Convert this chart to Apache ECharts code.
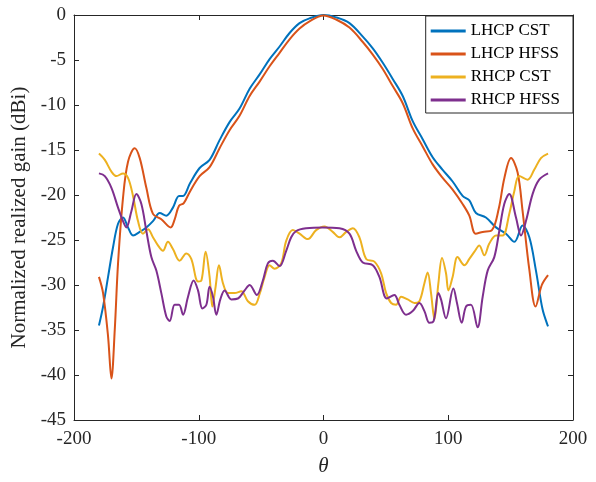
<!DOCTYPE html>
<html>
<head>
<meta charset="utf-8">
<script src="https://cdn.jsdelivr.net/npm/echarts@6/dist/echarts.min.js"></script>
<style>
html,body{margin:0;padding:0;background:#fff;}
#chart{width:596px;height:482px;}
</style>
</head>
<body>
<div id="chart"></div>
<script>
// ---- Data (theta in degrees, normalized realized gain in dBi) ----
var seriesNames = ['LHCP CST', 'LHCP HFSS', 'RHCP CST', 'RHCP HFSS'];
var xTicks = [-200, -100, 0, 100, 200];
var yTicks = [-45, -40, -35, -30, -25, -20, -15, -10, -5, 0];

var lhcpCstTheta = [-180,-176.7,-172.7,-168.7,-164.7,-160.7,-156.7,-152.7,-147.3,-142,-136.7,-131.3,-126,-120.7,-115.8,-112.6,-107,-99.3,-91.3,-83.3,-75.3,-67.3,-59.2,-51.2,-43.2,-35.2,-27.2,-19.2,-11.2,0,10.1,20.8,31.5,39.5,47.5,55.5,63.5,71.5,79.5,87.5,95.5,103.5,111.5,116.9,122.2,130.2,138.3,146.3,153,159.6,165,170.3,175.6,180];
var lhcpCstGain  = [-34.5,-32.4,-29.1,-25.8,-23.2,-22.5,-23.6,-24.5,-24.1,-23.6,-22.9,-22.0,-22.3,-21.4,-20.1,-20.1,-18.7,-17.0,-16.1,-13.9,-11.9,-10.4,-8.2,-6.6,-4.9,-3.5,-2.0,-0.9,-0.37,0,-0.26,-0.9,-2.4,-3.7,-5.3,-7.1,-9.0,-11.8,-13.8,-15.8,-17.2,-18.5,-20.1,-20.6,-22.0,-22.5,-23.6,-24.3,-25.2,-23.4,-24.7,-28.4,-32.7,-34.6];

var lhcpHfssTheta = [-180,-176.7,-172.7,-170,-167.3,-164.7,-160.7,-156.7,-151.3,-147.3,-142,-136.7,-130,-122.5,-119.3,-115.8,-112,-107,-99.3,-91.3,-83.3,-75.3,-67.3,-59.2,-51.2,-43.2,-35.2,-27.2,-19.2,-11.2,0,10.1,20.8,31.5,39.5,47.5,55.5,63.5,71.5,79.5,87.5,95.5,103.5,111.5,116.9,122,127.6,135,140.5,145,150.3,155.6,159.6,165,170,175,180];
var lhcpHfssGain  = [-29.1,-30.9,-35.7,-40.4,-34.9,-27.6,-20.3,-16.3,-14.8,-15.9,-19.2,-22.1,-22.7,-23.6,-22.7,-21.2,-20.9,-19.6,-17.9,-16.9,-14.8,-12.8,-11.2,-9.0,-7.4,-5.7,-4.2,-2.7,-1.5,-0.7,-0.05,-0.5,-1.4,-3.0,-4.4,-6.0,-7.9,-9.8,-12.6,-14.6,-16.6,-18.1,-19.4,-21.0,-22.3,-24.3,-24.1,-23.9,-21.5,-18.1,-15.9,-17.5,-21.8,-28.3,-32.4,-30.0,-28.9];

var rhcpCstTheta = [-180,-175.3,-170,-166,-160.7,-156.7,-152.7,-148.7,-144.7,-140.7,-136.7,-132.7,-128.7,-124.7,-120.7,-115.3,-110,-106,-100.6,-97.9,-94.5,-91.3,-89.1,-86.5,-83.8,-80.6,-76.6,-71.3,-65.9,-60.6,-55.2,-51.2,-47.2,-43.2,-39.2,-33.9,-29.9,-24.6,-19.2,-12.5,-5.9,0.8,7.4,12.8,18.2,23.5,28.8,34.2,40.8,46.2,50.2,54.2,58.2,62.2,67.5,72.9,76.9,80.9,83.5,86.2,88.9,92.1,95,98.2,100.1,103.5,107.5,112.9,116.9,121,124.9,128.9,132.9,138.3,143.6,148.9,152.9,156.9,163.6,168.9,174.3,180];
var rhcpCstGain  = [-15.4,-16.1,-17.4,-17.9,-17.6,-18.1,-20.1,-22.9,-24.3,-23.8,-24.7,-25.6,-26.2,-25.2,-26.0,-27.3,-26.5,-27.1,-29.6,-29.5,-26.3,-29.1,-32.4,-30.2,-27.8,-29.8,-30.9,-30.9,-30.7,-31.8,-32.2,-31.0,-29.1,-27.8,-28.2,-27.6,-25.1,-23.9,-24.3,-24.9,-23.9,-23.5,-24.1,-24.7,-24.1,-23.7,-24.7,-27.1,-27.4,-28.7,-30.9,-32.0,-32.2,-31.3,-31.6,-32.0,-31.8,-29.8,-28.6,-30.9,-33.8,-29.8,-27.0,-28.7,-30.6,-29.1,-26.9,-27.8,-27.1,-26.3,-25.6,-26.7,-25.4,-24.5,-24.5,-22.1,-19.6,-17.9,-18.3,-17.2,-15.9,-15.4];

var rhcpHfssTheta = [-180,-175.3,-170,-164.7,-160.7,-158,-154,-150,-146,-142,-138,-134,-130,-126,-123.3,-119.3,-115.8,-112.6,-108.6,-104.1,-100.6,-97.1,-93.9,-91.3,-88.6,-85.9,-82.7,-79.3,-73.9,-68.6,-63.2,-59.2,-53.4,-48.6,-44.6,-40.6,-35.2,-29.9,-25.9,-21.9,-13.9,-0.5,12.8,20.8,26.2,31.5,39.5,44.8,50.8,56.8,60.8,66.2,71.5,76.9,80.9,84.9,88.3,92.1,94.2,98.2,104.1,107,110.8,114.2,118.2,123.5,127.6,131.6,136.9,140.9,144.9,148.9,154.3,158.3,162.3,167.6,172.9,180];
var rhcpHfssGain  = [-17.6,-17.9,-19.2,-21.4,-22.9,-23.6,-21.8,-19.9,-21.0,-24.0,-26.9,-28.4,-30.9,-33.5,-34.0,-32.2,-32.2,-33.3,-31.3,-29.5,-30.6,-32.6,-32.2,-30.2,-31.3,-33.3,-31.6,-30.6,-31.6,-31.5,-30.6,-30.0,-31.1,-29.5,-27.6,-27.3,-27.9,-26.2,-24.7,-24.0,-23.7,-23.6,-23.7,-24.3,-26.2,-27.5,-27.8,-29.1,-31.5,-31.1,-32.2,-33.3,-32.9,-32.0,-32.9,-34.2,-34.0,-30.9,-31.6,-33.7,-30.4,-32.0,-34.2,-32.4,-32.2,-34.7,-31.3,-28.4,-26.9,-24.0,-21.0,-19.9,-22.5,-24.5,-22.9,-19.9,-18.3,-17.6];

var colors = ['#0072BD', '#D95319', '#EDB120', '#7E2F8E'];
var thetas = [lhcpCstTheta, lhcpHfssTheta, rhcpCstTheta, rhcpHfssTheta];
var gains = [lhcpCstGain, lhcpHfssGain, rhcpCstGain, rhcpHfssGain];

var FONT = '"Liberation Serif", "Times New Roman", serif';
var AX = '#262626';

var chart = echarts.init(document.getElementById('chart'), null, {renderer: 'canvas'});

var series = seriesNames.map(function (name, k) {
  return {
    name: name,
    type: 'line',
    showSymbol: false,
    symbol: 'none',
    smooth: 0.35,
    xAxisIndex: 0,
    yAxisIndex: 0,
    lineStyle: {color: colors[k], width: 2},
    itemStyle: {color: colors[k]},
    data: thetas[k].map(function (t, i) { return [t, gains[k][i]]; }),
    z: 2 + k
  };
});

function xAxisDef(pos, show) {
  return {
    type: 'value', position: pos,
    min: xTicks[0], max: xTicks[xTicks.length - 1], interval: xTicks[1] - xTicks[0],
    axisLine: {show: true, onZero: false, lineStyle: {color: AX, width: 1}},
    axisTick: {show: true, inside: true, length: 5, lineStyle: {color: AX, width: 1}},
    axisLabel: {show: show, color: AX, fontFamily: FONT, fontSize: 19, margin: 10},
    splitLine: {show: false},
    name: show ? 'θ' : '',
    nameLocation: 'middle', nameGap: 36,
    nameTextStyle: {fontFamily: FONT, fontSize: 21, fontStyle: 'italic', color: AX}
  };
}
function yAxisDef(pos, show) {
  return {
    type: 'value', position: pos,
    min: yTicks[0], max: yTicks[yTicks.length - 1], interval: yTicks[1] - yTicks[0],
    axisLine: {show: true, onZero: false, lineStyle: {color: AX, width: 1}},
    axisTick: {show: true, inside: true, length: 5, lineStyle: {color: AX, width: 1}},
    axisLabel: {show: show, color: AX, fontFamily: FONT, fontSize: 19, margin: 8},
    splitLine: {show: false},
    name: show ? 'Normalized realized gain (dBi)' : '',
    nameLocation: 'middle', nameGap: 37,
    nameTextStyle: {fontFamily: FONT, fontSize: 21, color: AX}
  };
}

chart.setOption({
  backgroundColor: '#ffffff',
  animation: false,
  grid: {left: 74, top: 15, right: 23, bottom: 57, containLabel: false},
  xAxis: [xAxisDef('bottom', true), xAxisDef('top', false)],
  yAxis: [yAxisDef('left', true), yAxisDef('right', false)],
  legend: {
    orient: 'vertical', right: 23, top: 16,
    data: seriesNames,
    icon: 'rect',
    itemWidth: 35, itemHeight: 3, itemGap: 3,
    padding: [5, 13, 3, 5],
    backgroundColor: '#fff',
    borderColor: AX, borderWidth: 1, borderRadius: 0,
    textStyle: {fontFamily: FONT, fontSize: 17, color: '#000', lineHeight: 20}
  },
  series: series
});
</script>
</body>
</html>
